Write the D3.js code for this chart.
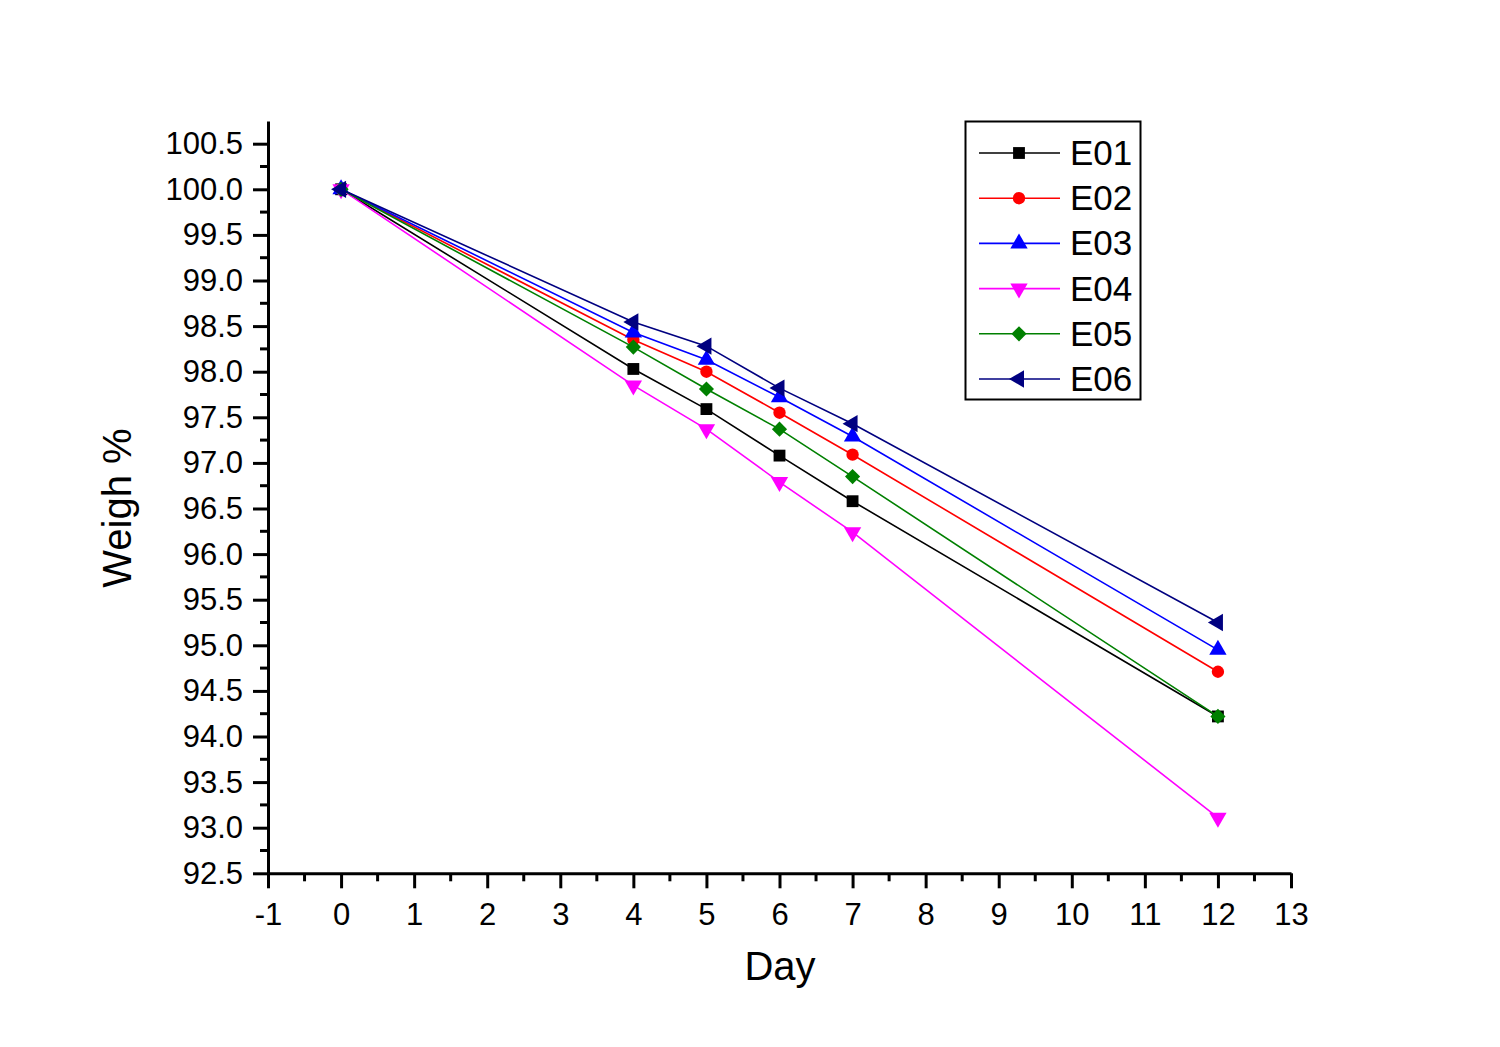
<!DOCTYPE html>
<html>
<head>
<meta charset="utf-8">
<script src="https://cdn.jsdelivr.net/npm/d3@7"></script>
<style>
    html, body { margin: 0; padding: 0; background: #fff; }
    svg text { font-family: "Liberation Sans", Arial, sans-serif; fill: #000; }
</style>
</head>
<body>
<svg id="chart" width="1500" height="1047"></svg>
<script>
    "use strict";

    var days = [0, 4, 5, 6, 7, 12];
    var seriesNames = ["E01", "E02", "E03", "E04", "E05", "E06"];
    var e01 = [100, 98.03, 97.59, 97.08, 96.58, 94.22];
    var e02 = [100, 98.35, 98.00, 97.55, 97.09, 94.71];
    var e03 = [100, 98.43, 98.13, 97.72, 97.29, 94.95];
    var e04 = [100, 97.85, 97.37, 96.79, 96.24, 93.11];
    var e05 = [100, 98.27, 97.81, 97.37, 96.85, 94.22];
    var e06 = [100, 98.545, 98.28, 97.82, 97.43, 95.25];
    var xTicks = [-1, 0, 1, 2, 3, 4, 5, 6, 7, 8, 9, 10, 11, 12, 13];
    var yTicks = [92.5, 93, 93.5, 94, 94.5, 95, 95.5, 96, 96.5, 97, 97.5, 98, 98.5, 99, 99.5, 100, 100.5];

    var colors = ["#000000", "#ff0000", "#0000ff", "#ff00ff", "#008000", "#000080"];
    var series = [e01, e02, e03, e04, e05, e06];

    var svg = d3.select("#chart");

    var x = d3.scaleLinear().domain([-1, 13]).range([268, 1291]);
    var y = d3.scaleLinear().domain([92.5, 100.75]).range([873.3, 120.9]);

    // minor ticks between majors
    var xMinor = d3.range(-0.5, 13, 1);
    var yMinor = d3.range(92.75, 100.75, 0.5);

    var gx = svg.append("g").attr("transform", "translate(0," + y(92.5) + ")");
    gx.call(d3.axisBottom(x).tickValues(xTicks).tickSize(15).tickSizeOuter(0).tickPadding(10)
        .tickFormat(function (d) { return String(d); }));
    gx.append("g").selectAll("line").data(xMinor).enter().append("line")
        .attr("x1", function (d) { return x(d); })
        .attr("x2", function (d) { return x(d); })
        .attr("y1", 0).attr("y2", 8);

    var gy = svg.append("g").attr("transform", "translate(" + x(-1) + ",0)");
    gy.call(d3.axisLeft(y).tickValues(yTicks).tickSize(15).tickSizeOuter(0).tickPadding(10)
        .tickFormat(d3.format(".1f")));
    gy.append("g").selectAll("line").data(yMinor).enter().append("line")
        .attr("y1", function (d) { return y(d); })
        .attr("y2", function (d) { return y(d); })
        .attr("x1", 0).attr("x2", -8);

    svg.selectAll(".domain, .tick line, g line").attr("stroke", "#000").attr("stroke-width", 3);
    svg.selectAll(".tick text").style("font-size", "31px").attr("fill", "#000");
    gx.selectAll(".tick text").attr("dy", "0.85em");

    svg.append("text")
        .attr("x", 780).attr("y", 980)
        .attr("text-anchor", "middle")
        .style("font-size", "40px")
        .text("Day");

    svg.append("text")
        .attr("transform", "translate(131,508) rotate(-90)")
        .attr("text-anchor", "middle")
        .style("font-size", "40px")
        .text("Weigh %");

    var symbols = [
        d3.symbol().type(d3.symbolSquare).size(140),
        d3.symbol().type(d3.symbolCircle).size(120),
        d3.symbol().type(d3.symbolTriangle).size(130),
        d3.symbol().type(d3.symbolTriangle).size(130),
        d3.symbol().type(d3.symbolSquare).size(115),
        d3.symbol().type(d3.symbolTriangle).size(130)
    ];
    var rotations = [0, 0, 0, 180, 45, -90];

    var line = d3.line()
        .x(function (d) { return x(d[0]); })
        .y(function (d) { return y(d[1]); });

    series.forEach(function (vals, i) {
        var pts = days.map(function (d, j) { return [d, vals[j]]; });
        var g = svg.append("g");
        g.append("path")
            .attr("d", line(pts))
            .attr("fill", "none")
            .attr("stroke", colors[i])
            .attr("stroke-width", 1.6);
        g.selectAll("path.m").data(pts).enter().append("path")
            .attr("class", "m")
            .attr("d", symbols[i]())
            .attr("fill", colors[i])
            .attr("transform", function (d) {
                return "translate(" + x(d[0]) + "," + y(d[1]) + ") rotate(" + rotations[i] + ")";
            });
    });

    // legend
    var legend = svg.append("g");
    legend.append("rect")
        .attr("x", 965.5).attr("y", 121.5)
        .attr("width", 175).attr("height", 278)
        .attr("fill", "#fff")
        .attr("stroke", "#000").attr("stroke-width", 2);

    seriesNames.forEach(function (name, i) {
        var ly = 153 + i * 45.2;
        legend.append("line")
            .attr("x1", 979).attr("x2", 1060)
            .attr("y1", ly).attr("y2", ly)
            .attr("stroke", colors[i]).attr("stroke-width", 1.6);
        legend.append("path")
            .attr("d", symbols[i]())
            .attr("fill", colors[i])
            .attr("transform", "translate(1019," + ly + ") rotate(" + rotations[i] + ")");
        legend.append("text")
            .attr("x", 1070).attr("y", ly + 12)
            .style("font-size", "35px")
            .text(name);
    });
</script>
</body>
</html>
